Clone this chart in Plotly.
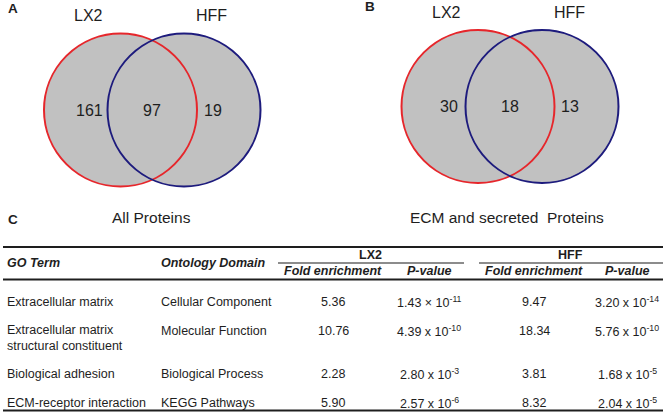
import plotly.graph_objects as go

# ---------------- data ----------------
venn_sets = ["LX2", "HFF"]
venn_a_counts = [161, 97, 19]      # LX2 only, shared, HFF only
venn_b_counts = [30, 18, 13]
venn_captions = ["All Proteins", "ECM and secreted  Proteins"]
panel_labels = ["A", "B", "C"]

go_terms = ["Extracellular matrix",
            "Extracellular matrix<br>structural constituent",
            "Biological adhesion",
            "ECM-receptor interaction"]
domains = ["Cellular Component", "Molecular Function",
           "Biological Process", "KEGG Pathways"]
lx2_fold = [5.36, 10.76, 2.28, 5.90]
lx2_p_mant = [1.43, 4.39, 2.80, 2.57]
lx2_p_exp = [-11, -10, -3, -6]
lx2_p_sep = ["×", "x", "x", "x"]
hff_fold = [9.47, 18.34, 3.81, 8.32]
hff_p_mant = [3.20, 5.76, 1.68, 2.04]
hff_p_exp = [-14, -10, -5, -5]
hff_p_sep = ["x", "x", "x", "x"]
header_cols = ["GO Term", "Ontology Domain"]
group_headers = ["LX2", "HFF"]
sub_headers = ["Fold enrichment", "P-value"]

# ---------------- style / layout ----------------
W, H = 666, 412
FONT = "Liberation Sans, Arial, sans-serif"
TXT = "#1e1e1e"
RED = "#e6262b"
NAVY = "#1d1b7d"
GRAY = "#c1c1c1"

fig = go.Figure()
shapes = []
ann = []

def text(x, y, s, size=12.5, anchor="center", bold=False, italic=False):
    ann.append(dict(x=x, y=y, xref="x", yref="y", text=s, showarrow=False,
                    xanchor=anchor, yanchor="middle", align=anchor,
                    font=dict(family=FONT, size=size, color=TXT,
                              weight="bold" if bold else "normal",
                              style="italic" if italic else "normal")))

def venn(cx1, cx2, cy, r, counts, label_y, count_xs, label_xs):
    for cx in (cx1, cx2):
        shapes.append(dict(type="circle", xref="x", yref="y",
                           x0=cx - r, x1=cx + r, y0=cy - r, y1=cy + r,
                           fillcolor=GRAY, line=dict(width=0), layer="below"))
    for cx, col in ((cx1, RED), (cx2, NAVY)):
        shapes.append(dict(type="circle", xref="x", yref="y",
                           x0=cx - r, x1=cx + r, y0=cy - r, y1=cy + r,
                           fillcolor="rgba(0,0,0,0)", line=dict(width=2, color=col)))
    for x, c in zip(count_xs, counts):
        text(x, cy, str(c), size=16)
    for x, s in zip(label_xs, venn_sets):
        text(x, label_y, s, size=16)

venn(120.5, 184, 110, 76.5, venn_a_counts, 15, [89.5, 152, 212.5], [88, 211])
venn(478, 542, 106.5, 76.5, venn_b_counts, 12, [448.5, 510, 570], [446, 569])

text(13, 8, panel_labels[0], size=13.5, bold=True)
text(370, 6, panel_labels[1], size=13.5, bold=True)
text(13, 219, panel_labels[2], size=13.5, bold=True)
text(151.5, 217, venn_captions[0], size=15.5)
text(507, 217, venn_captions[1], size=15.5)

# ---------------- table ----------------
def hline(x0, x1, y, w=2, col="#1e1e1e"):
    shapes.append(dict(type="line", xref="x", yref="y", x0=x0, x1=x1, y0=y, y1=y,
                       line=dict(width=w, color=col)))

hline(3, 663, 247, 2)
hline(3, 663, 279.5, 2)
hline(3, 663, 410.5, 2)
hline(278, 464, 263, 1.5, "#666666")
hline(479, 663, 263, 1.5, "#666666")

col_left = [5, 159]
for x, s in zip(col_left, header_cols):
    text(x, 263, s, anchor="left", bold=True, italic=True)
group_x = [370, 570]
for x, s in zip(group_x, group_headers):
    text(x, 255, s, bold=True)
fold_x = [333, 534]
p_x = [429, 627]
for i in range(2):
    text(fold_x[i], 271, sub_headers[0], bold=True, italic=True)
    text(p_x[i], 271, sub_headers[1], bold=True, italic=True)

row_y = [302, 338, 374, 403]
for i in range(len(go_terms)):
    y = row_y[i]
    text(col_left[0], y, go_terms[i], anchor="left")
    ydom = 331 if "<br>" in go_terms[i] else y
    text(col_left[1], ydom, domains[i], anchor="left")
    text(fold_x[0], ydom, f"{lx2_fold[i]:.2f}")
    text(p_x[0], ydom, f"{lx2_p_mant[i]:.2f} {lx2_p_sep[i]} 10<sup>{lx2_p_exp[i]}</sup>")
    text(fold_x[1], ydom, f"{hff_fold[i]:.2f}")
    text(p_x[1], ydom, f"{hff_p_mant[i]:.2f} {hff_p_sep[i]} 10<sup>{hff_p_exp[i]}</sup>")

fig.add_trace(go.Scatter(x=[0, W], y=[0, H], mode="markers",
                         marker=dict(opacity=0), hoverinfo="skip", showlegend=False))

fig.update_layout(
    width=W, height=H, margin=dict(l=0, r=0, t=0, b=0),
    paper_bgcolor="white", plot_bgcolor="white",
    xaxis=dict(range=[0, W], visible=False, fixedrange=True),
    yaxis=dict(range=[H, 0], visible=False, fixedrange=True),
    shapes=shapes, annotations=ann, showlegend=False,
)

fig.write_html("out.html", config={"displayModeBar": False},
               post_script="document.body.style.margin='0';document.body.style.overflow='hidden';")
